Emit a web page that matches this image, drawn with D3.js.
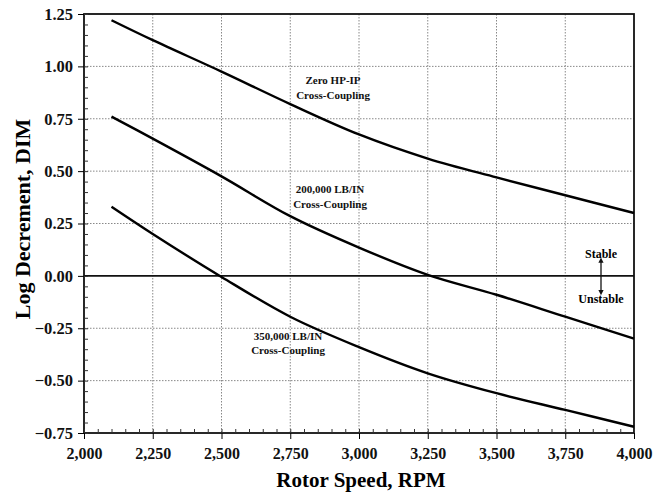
<!DOCTYPE html>
<html>
<head>
<meta charset="utf-8">
<script src="https://cdn.jsdelivr.net/npm/d3@7"></script>
<style>
  body { margin: 0; background: #fff; }
  text { font-family: "Liberation Serif", "Times New Roman", serif; font-weight: bold; }
</style>
</head>
<body>
<div id="chart"></div>
<script>
var margin = {top: 14, right: 22, bottom: 59, left: 84},
    width = 656 - margin.left - margin.right,
    height = 492 - margin.top - margin.bottom;

// rotor speed, rpm
var speeds = [2100, 2250, 2500, 2750, 3000, 3250, 3500, 3750, 4000];
// log decrement for each cross-coupling case
var zeroHP = [1.22, 1.125, 0.975, 0.82, 0.675, 0.56, 0.47, 0.385, 0.30];
var lb200k = [0.76, 0.655, 0.475, 0.285, 0.135, 0.005, -0.09, -0.195, -0.30];
var lb350k = [0.33, 0.20, -0.005, -0.195, -0.34, -0.465, -0.56, -0.64, -0.72];

var xTicks = [2000, 2250, 2500, 2750, 3000, 3250, 3500, 3750, 4000];
var yTicks = [-0.75, -0.5, -0.25, 0, 0.25, 0.5, 0.75, 1.0, 1.25];

var series = [
    {name: ["Zero HP-IP", "Cross-Coupling"], values: zeroHP, lx: 333, ly: 0.915},
    {name: ["200,000 LB/IN", "Cross-Coupling"], values: lb200k, lx: 330, ly: 0.395},
    {name: ["350,000 LB/IN", "Cross-Coupling"], values: lb350k, lx: 288, ly: -0.305}
];

var svg = d3.select("#chart").append("svg")
    .attr("width", 656)
    .attr("height", 492);

var g = svg.append("g")
    .attr("transform", `translate(${margin.left},${margin.top})`);

var x = d3.scaleLinear().domain([2000, 4000]).range([0, width]);
var y = d3.scaleLinear().domain([-0.75, 1.25]).range([height, 0]);

// dotted grid
g.append("g")
    .selectAll("line")
    .data(xTicks.slice(1, -1))
    .join("line")
        .attr("x1", d => x(d)).attr("x2", d => x(d))
        .attr("y1", 0).attr("y2", height)
        .attr("stroke", "#888")
        .attr("stroke-width", 1)
        .attr("stroke-dasharray", "1.5,1.5");

g.append("g")
    .selectAll("line")
    .data(yTicks.filter(d => d != 0 && d != -0.75 && d != 1.25))
    .join("line")
        .attr("x1", 0).attr("x2", width)
        .attr("y1", d => y(d)).attr("y2", d => y(d))
        .attr("stroke", "#888")
        .attr("stroke-width", 1)
        .attr("stroke-dasharray", "1.5,1.5");

// zero line
g.append("line")
    .attr("x1", 0).attr("x2", width)
    .attr("y1", y(0)).attr("y2", y(0))
    .attr("stroke", "#111")
    .attr("stroke-width", 1.8);

// frame
g.append("rect")
    .attr("width", width).attr("height", height)
    .attr("fill", "none")
    .attr("stroke", "#111")
    .attr("stroke-width", 1.8);

// axes
var yAxis = g.append("g")
    .call(d3.axisLeft(y).tickValues(yTicks).tickSize(6).tickPadding(5));
yAxis.select(".domain").remove();
yAxis.selectAll("text")
    .attr("font-size", 16.5)
    .attr("fill", "#111")
    .text(d => d3.format(".2f")(d));

g.append("g")
    .call(d3.axisRight(y).ticks(40).tickFormat("").tickSize(4))
    .call(a => a.select(".domain").remove())
    .selectAll("line").attr("stroke", "#333");

var xAxis = g.append("g")
    .attr("transform", `translate(0,${height})`)
    .call(d3.axisBottom(x).tickValues(xTicks).tickFormat(d3.format(",")).tickSize(6).tickPadding(9));
xAxis.select(".domain").remove();
xAxis.selectAll("text").attr("font-size", 16).attr("fill", "#111");

g.append("g")
    .attr("transform", `translate(0,${height})`)
    .call(d3.axisTop(x).ticks(40).tickFormat("").tickSize(4))
    .call(a => a.select(".domain").remove())
    .selectAll("line").attr("stroke", "#333");

// curves
var line = d3.line()
    .x((d, i) => x(speeds[i]))
    .y(d => y(d))
    .curve(d3.curveCatmullRom);

g.append("g")
    .selectAll("path")
    .data(series)
    .join("path")
        .attr("d", d => line(d.values))
        .attr("fill", "none")
        .attr("stroke", "#000")
        .attr("stroke-width", 2.4);

// curve labels
series.forEach(s => {
    var t = g.append("text")
        .attr("text-anchor", "middle")
        .attr("font-size", 11)
        .attr("fill", "#111")
        .attr("transform", `translate(${s.lx - margin.left},${y(s.ly)})`);
    s.name.forEach((n, i) => {
        t.append("tspan").attr("x", 0).attr("dy", i ? 14.5 : 0).text(n);
    });
});

// stable / unstable marker
var sx = x(3880);
g.append("text").attr("x", sx).attr("y", 258 - margin.top).attr("text-anchor", "middle")
    .attr("font-size", 12).text("Stable");
g.append("text").attr("x", sx).attr("y", 303 - margin.top).attr("text-anchor", "middle")
    .attr("font-size", 12).text("Unstable");

svg.append("defs").append("marker")
    .attr("id", "arr")
    .attr("viewBox", "0 0 10 10")
    .attr("refX", 5).attr("refY", 5)
    .attr("markerWidth", 4).attr("markerHeight", 4)
    .attr("orient", "auto-start-reverse")
    .append("path").attr("d", "M0,0L10,5L0,10z").attr("fill", "#111");

g.append("line")
    .attr("x1", sx).attr("x2", sx)
    .attr("y1", y(0.075)).attr("y2", y(-0.08))
    .attr("stroke", "#111")
    .attr("stroke-width", 1.3)
    .attr("marker-start", "url(#arr)")
    .attr("marker-end", "url(#arr)");

// axis titles
svg.append("text")
    .attr("text-anchor", "middle")
    .attr("font-size", 22)
    .attr("transform", `translate(30,219) rotate(-90)`)
    .text("Log Decrement, DIM");

svg.append("text")
    .attr("text-anchor", "middle")
    .attr("font-size", 21)
    .attr("x", 361)
    .attr("y", 487)
    .text("Rotor Speed, RPM");
</script>
</body>
</html>
